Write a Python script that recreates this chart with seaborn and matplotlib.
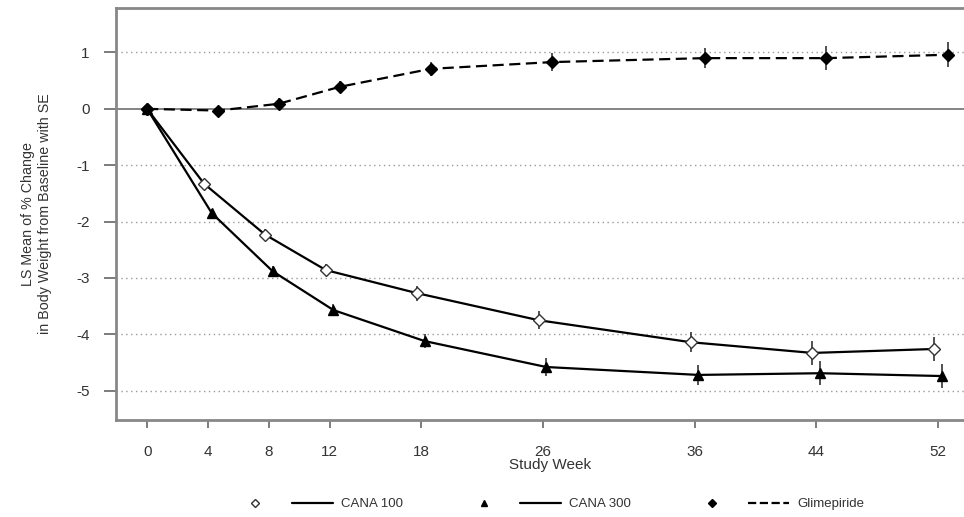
import numpy as np
import pandas as pd
import matplotlib
matplotlib.use('Agg')
import matplotlib.pyplot as plt
from matplotlib.lines import Line2D
from matplotlib.legend_handler import HandlerTuple
import seaborn as sns

weeks = [0, 4, 8, 12, 18, 26, 36, 44, 52]
cana100 = [0, -1.33, -2.23, -2.86, -3.27, -3.75, -4.14, -4.33, -4.26]
cana300 = [0, -1.85, -2.88, -3.57, -4.12, -4.58, -4.72, -4.69, -4.74]
glime = [0, -0.03, 0.09, 0.39, 0.71, 0.83, 0.90, 0.90, 0.96]
se100 = [0, 0.08, 0.10, 0.11, 0.13, 0.16, 0.18, 0.21, 0.22]
se300 = [0, 0.08, 0.10, 0.11, 0.13, 0.16, 0.18, 0.21, 0.22]
seglime = [0, 0.08, 0.10, 0.11, 0.13, 0.16, 0.18, 0.21, 0.22]
groups = ['CANA 100', 'CANA 300', 'Glimepiride']

# small horizontal dodge so the error bars don't overlap
dodge = {'CANA 100': -0.25, 'CANA 300': 0.25, 'Glimepiride': 0.65}

frames = []
for g, y, se in zip(groups, [cana100, cana300, glime], [se100, se300, seglime]):
    d = pd.DataFrame({'week': weeks, 'lsm': y, 'se': se})
    d['group'] = g
    d['x'] = d['week'] + np.where(d['week'] == 0, 0, dodge[g])
    frames.append(d)
df = pd.concat(frames, ignore_index=True)

sns.set_style('white')
plt.rcParams['font.family'] = ['Liberation Sans', 'DejaVu Sans']
plt.rcParams['axes.unicode_minus'] = False

fig = plt.figure(figsize=(9.64, 5.17), dpi=100)
ax = fig.add_axes([0.1203, 0.1876, 0.90, 0.797])

dashes = {'CANA 100': '', 'CANA 300': '', 'Glimepiride': (5, 2.5)}

for y in [1, -1, -2, -3, -4, -5]:
    ax.axhline(y, color='#9a9a9a', lw=1.0, ls=(0, (1, 2.5)), zorder=0)
ax.axhline(0, color='#707070', lw=1.2, zorder=1)

sns.lineplot(data=df, x='x', y='lsm', hue='group', style='group',
             palette={g: 'black' for g in groups}, markers=False, dashes=dashes,
             lw=1.6, ax=ax, legend=False, sort=False)

mstyle = {'CANA 100': dict(marker='D', mfc='white', mec='#333333', ms=6.5, mew=1.0),
          'CANA 300': dict(marker='^', mfc='black', mec='black', ms=7),
          'Glimepiride': dict(marker='D', mfc='black', mec='black', ms=6.5)}
for g in groups:
    d = df[df['group'] == g]
    ax.errorbar(d['x'], d['lsm'], yerr=d['se'], fmt='none', ecolor='#222222',
                elinewidth=1.1, capsize=0, zorder=3)
    ax.plot(d['x'], d['lsm'], ls='none', zorder=4, **mstyle[g])

ax.set_xlim(-2.05, 55)
ax.set_ylim(-5.52, 1.79)
ax.set_xticks(weeks)
ax.set_yticks([1, 0, -1, -2, -3, -4, -5])
ax.tick_params(axis='both', which='both', direction='out', width=1.2,
               color='#666666', labelsize=11, labelcolor='#333333',
               left=True, bottom=True)
ax.tick_params(axis='y', length=9, pad=10)
ax.tick_params(axis='x', length=6, pad=12)
for s in ['left', 'top', 'bottom']:
    ax.spines[s].set_color('#888888')
    ax.spines[s].set_linewidth(2)
ax.spines['right'].set_visible(False)

ax.set_xlabel('Study Week', fontsize=11, color='#333333', labelpad=-1)
ax.set_ylabel('LS Mean of % Change\nin Body Weight from Baseline with SE',
              fontsize=10.3, color='#333333', labelpad=17, linespacing=1.3)

handles = []
for g in groups:
    mk = Line2D([], [], ls='none', **{**mstyle[g], 'ms': 4.5})
    ln = Line2D([], [], color='black', lw=1.6,
                ls='--' if g == 'Glimepiride' else '-')
    handles.append((mk, ln))
fig.legend(handles, groups, handler_map={tuple: HandlerTuple(ndivide=2, pad=1.2)},
           loc='center', bbox_to_anchor=(0.57, 0.025), ncol=3, frameon=False,
           handlelength=7.4, handletextpad=0.6, columnspacing=4.6, fontsize=9.5,
           labelcolor='#333333')

fig.savefig('out.png', dpi=100)
